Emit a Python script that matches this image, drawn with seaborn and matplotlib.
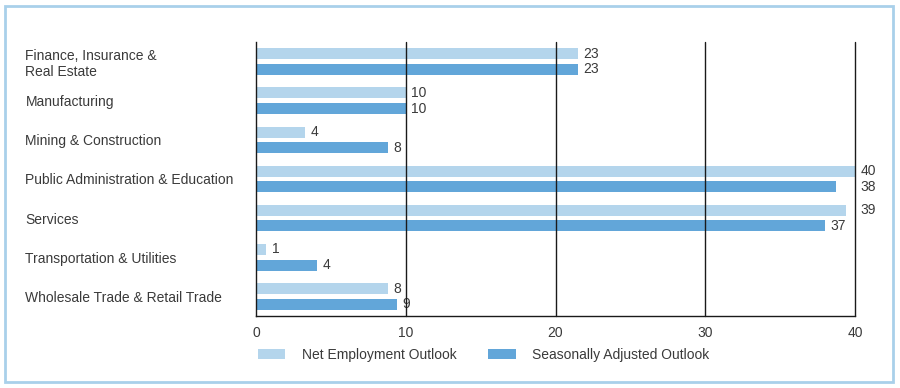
import pandas as pd
import matplotlib.pyplot as plt
import seaborn as sns
from matplotlib.patches import Patch, Rectangle

# categories and values
sectors = ["Finance, Insurance &\nReal Estate", "Manufacturing", "Mining & Construction",
           "Public Administration & Education", "Services", "Transportation & Utilities",
           "Wholesale Trade & Retail Trade"]
net_outlook = [21.5, 10, 3.3, 40, 39.4, 0.7, 8.8]
adj_outlook = [21.5, 10, 8.8, 38.7, 38.0, 4.1, 9.4]
net_labels = ["23", "10", "4", "40", "39", "1", "8"]
adj_labels = ["23", "10", "8", "38", "37", "4", "9"]
series = ["Net Employment Outlook", "Seasonally Adjusted Outlook"]
x_ticks = [0, 10, 20, 30, 40]

light = "#b4d5ec"
dark = "#62a6d9"
txt = "#3a3a3a"
fs = 10

df = pd.DataFrame({
    "sector": sectors * 2,
    "value": net_outlook + adj_outlook,
    "series": [series[0]] * len(sectors) + [series[1]] * len(sectors),
})

sns.set_style("white")
plt.rcParams["font.family"] = ["Liberation Sans", "DejaVu Sans"]

fig = plt.figure(figsize=(9, 3.88), dpi=100)
ax = fig.add_axes([256 / 900, 1 - 316 / 388, 599 / 900, 274 / 388])

sns.barplot(data=df, x="value", y="sector", hue="series", orient="h",
            palette=[light, dark], width=0.8, gap=0.3, legend=False,
            saturation=1, ax=ax, linewidth=0)

for cont, labs in zip(ax.containers, [net_labels, adj_labels]):
    anns = ax.bar_label(cont, labels=labs, padding=4, fontsize=fs, color=txt)
    # labels that would sit on the 40 line go just outside it
    for ann in anns:
        x, y = ann.xy
        if x > 38.3:
            ann.xy = (40, y)
            ann.set_clip_on(False)

for v in x_ticks[1:]:
    ax.axvline(v, color="#1a1a1a", lw=1, zorder=5, clip_on=False)

ax.set_xlim(0, 40)
ax.set_ylim(len(sectors) - 0.5, -0.5)
ax.set_xticks(x_ticks)
ax.set_xticklabels([str(v) for v in x_ticks], fontsize=fs, color=txt)
ax.tick_params(axis="x", direction="out", length=5, width=1, color="#1a1a1a", pad=2)

# category labels on major ticks, boundary marks on minor ticks
ax.set_yticks(range(len(sectors)))
ax.set_yticklabels(sectors, fontsize=fs, color=txt, ha="left", linespacing=1.15)
ax.tick_params(axis="y", which="major", length=0, pad=166)
ax.set_yticks([i - 0.5 for i in range(len(sectors) + 1)], minor=True)
ax.tick_params(axis="y", which="minor", length=6, width=1, color="#1a1a1a", direction="out")

ax.set_xlabel("")
ax.set_ylabel("")
for s in ["top", "right"]:
    ax.spines[s].set_visible(False)
for s in ["left", "bottom"]:
    ax.spines[s].set_color("#1a1a1a")
    ax.spines[s].set_linewidth(1)

handles = [Patch(facecolor=light, edgecolor="none"), Patch(facecolor=dark, edgecolor="none")]
fig.legend(handles, series, loc="center left", bbox_to_anchor=(258 / 900, 1 - 355 / 388),
           ncol=2, frameon=False, fontsize=fs, handlelength=1.95, handleheight=0.7,
           handletextpad=1.2, columnspacing=2.3, borderpad=0, borderaxespad=0,
           labelcolor=txt)

fig.patches.append(Rectangle((5 / 900, 6 / 388), 888 / 900, 376 / 388,
                             transform=fig.transFigure, fill=False,
                             edgecolor="#a9d0ea", linewidth=2))

fig.savefig("out.png", dpi=100)
